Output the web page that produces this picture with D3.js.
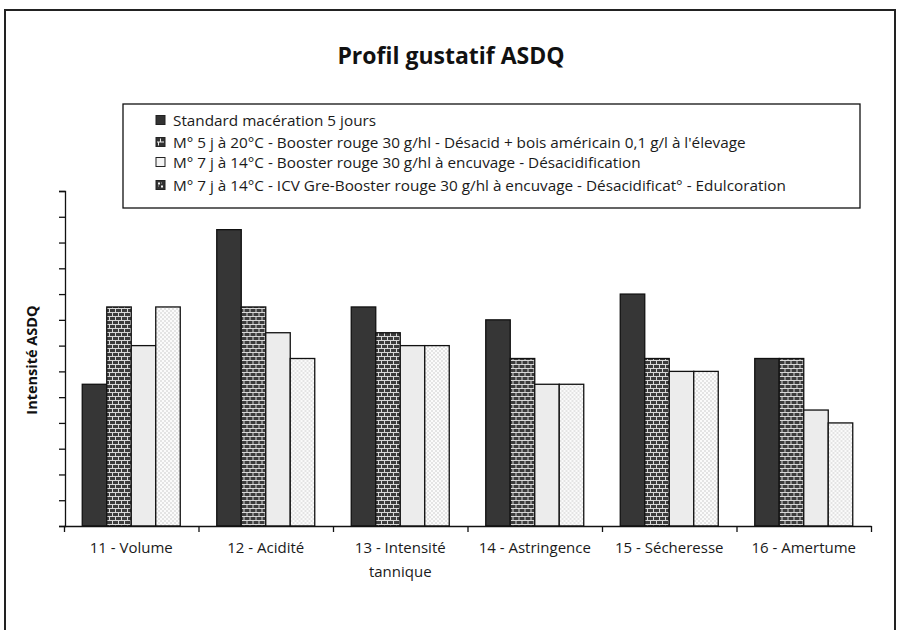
<!DOCTYPE html>
<html>
<head>
<meta charset="utf-8">
<script src="https://cdn.jsdelivr.net/npm/d3@7/dist/d3.min.js"></script>
<style>
  html, body { margin: 0; padding: 0; background: #fff; }
  svg { display: block; font-family: "Open Sans", "Noto Sans", sans-serif; }
</style>
</head>
<body>
<svg id="chart" width="901" height="630"></svg>
<script>
// Taste profile categories (x axis)
const categories = [
  ["11 - Volume"],
  ["12 - Acidité"],
  ["13 - Intensité", "tannique"],
  ["14 - Astringence"],
  ["15 - Sécheresse"],
  ["16 - Amertume"]
];

// Treatments (legend order)
const seriesNames = [
  "Standard macération 5 jours",
  "M° 5 j à 20°C - Booster rouge 30 g/hl - Désacid + bois américain 0,1 g/l à l'élevage",
  "M° 7 j à 14°C - Booster rouge 30 g/hl à encuvage - Désacidification",
  "M° 7 j à 14°C - ICV Gre-Booster rouge 30 g/hl à encuvage - Désacidificat° - Edulcoration"
];

// Intensity scores per treatment, one value per category
const standard   = [5.5, 11.5, 8.5, 8.0, 9.0, 6.5];
const booster20  = [8.5, 8.5, 7.5, 6.5, 6.5, 6.5];
const booster14  = [7.0, 7.5, 7.0, 5.5, 6.0, 4.5];
const icvGre     = [8.5, 6.5, 7.0, 5.5, 6.0, 4.0];
const seriesValues = [standard, booster20, booster14, icvGre];

const yTicks = d3.range(0, 14);
const yMax = 13;

const svg = d3.select("#chart");

// ---- fill patterns ----
const defs = svg.append("defs");

// brick fill
const brick = defs.append("pattern").attr("id", "brick")
  .attr("patternUnits", "userSpaceOnUse").attr("width", 6).attr("height", 8);
brick.append("rect").attr("width", 6).attr("height", 8).attr("fill", "#3c3c3c");
brick.append("rect").attr("x", 0).attr("y", 0).attr("width", 6).attr("height", 1).attr("fill", "#d8d8d8");
brick.append("rect").attr("x", 0).attr("y", 4).attr("width", 6).attr("height", 1).attr("fill", "#d8d8d8");
brick.append("rect").attr("x", 0).attr("y", 0).attr("width", 1).attr("height", 4).attr("fill", "#d8d8d8");
brick.append("rect").attr("x", 3).attr("y", 4).attr("width", 1).attr("height", 4).attr("fill", "#d8d8d8");

// fine checker fill
const check = defs.append("pattern").attr("id", "check")
  .attr("patternUnits", "userSpaceOnUse").attr("width", 4).attr("height", 4);
check.append("rect").attr("width", 4).attr("height", 4).attr("fill", "#fbfbfb");
check.append("rect").attr("x", 0).attr("y", 0).attr("width", 2).attr("height", 2).attr("fill", "#e4e4e4");
check.append("rect").attr("x", 2).attr("y", 2).attr("width", 2).attr("height", 2).attr("fill", "#e4e4e4");

// legend swatch variants
const legBrick = defs.append("pattern").attr("id", "legBrick")
  .attr("patternUnits", "objectBoundingBox").attr("width", 1).attr("height", 1);
legBrick.append("rect").attr("width", 9).attr("height", 9).attr("fill", "#333");
legBrick.append("rect").attr("x", 1).attr("y", 4).attr("width", 7).attr("height", 1).attr("fill", "#eee");
legBrick.append("rect").attr("x", 4).attr("y", 1).attr("width", 1).attr("height", 3).attr("fill", "#eee");
legBrick.append("rect").attr("x", 2).attr("y", 5).attr("width", 1).attr("height", 3).attr("fill", "#eee");

const legCheck = defs.append("pattern").attr("id", "legCheck")
  .attr("patternUnits", "objectBoundingBox").attr("width", 1).attr("height", 1);
legCheck.append("rect").attr("width", 9).attr("height", 9).attr("fill", "#333");
legCheck.append("rect").attr("x", 2).attr("y", 2).attr("width", 2).attr("height", 2).attr("fill", "#f4f4f4");
legCheck.append("rect").attr("x", 5).attr("y", 5).attr("width", 2).attr("height", 2).attr("fill", "#f4f4f4");
legCheck.append("rect").attr("x", 5).attr("y", 2).attr("width", 1).attr("height", 1).attr("fill", "#aaa");
legCheck.append("rect").attr("x", 2).attr("y", 5).attr("width", 1).attr("height", 1).attr("fill", "#aaa");

const barFills = ["#363636", "url(#brick)", "#ececec", "url(#check)"];
const legendFills = ["#333", "url(#legBrick)", "#f4f4f4", "url(#legCheck)"];

// ---- outer frame ----
svg.append("rect")
  .attr("x", 5).attr("y", 10).attr("width", 890).attr("height", 640)
  .attr("fill", "#fff").attr("stroke", "#222").attr("stroke-width", 2);

// ---- title ----
svg.append("text")
  .attr("x", 451).attr("y", 64)
  .attr("text-anchor", "middle")
  .attr("font-size", 23).attr("font-weight", 700)
  .attr("fill", "#111")
  .text("Profil gustatif ASDQ");

// ---- scales ----
const plot = { left: 64, right: 871, top: 191, bottom: 526 };

const x0 = d3.scaleBand()
  .domain(d3.range(categories.length))
  .range([plot.left, plot.right])
  .padding(0);

const x1 = d3.scaleBand()
  .domain(d3.range(seriesNames.length))
  .range([0, x0.bandwidth()])
  .paddingInner(0)
  .paddingOuter(0.745);

const y = d3.scaleLinear().domain([0, yMax]).range([plot.bottom, plot.top]);

// ---- bars ----
const groups = svg.append("g").selectAll("g")
  .data(categories.map((c, i) => i))
  .join("g")
  .attr("transform", i => `translate(${x0(i)},0)`);

groups.selectAll("rect")
  .data(ci => seriesValues.map((vals, si) => ({ si, v: vals[ci] })))
  .join("rect")
  .attr("x", d => x1(d.si))
  .attr("y", d => y(d.v))
  .attr("width", x1.bandwidth())
  .attr("height", d => y(0) - y(d.v))
  .attr("fill", d => barFills[d.si])
  .attr("stroke", "#111")
  .attr("stroke-width", 1.3);

// ---- y axis ----
const yAxis = svg.append("g")
  .attr("transform", `translate(${plot.left + 1},0)`)
  .call(d3.axisLeft(y).tickValues(yTicks).tickSize(6).tickFormat(""));
yAxis.select(".domain").attr("stroke", "#111").attr("stroke-width", 1.3);
yAxis.selectAll(".tick line").attr("stroke", "#111").attr("stroke-width", 1.3);

// ---- x axis (ticks at category boundaries) ----
const boundaries = d3.range(categories.length + 1).map(i => plot.left + i * x0.bandwidth());
const xEdge = d3.scaleLinear().domain([plot.left, plot.right]).range([plot.left, plot.right]);
const xAxis = svg.append("g")
  .attr("transform", `translate(0,${plot.bottom})`)
  .call(d3.axisBottom(xEdge).tickValues(boundaries).tickSize(6).tickSizeOuter(0).tickFormat(""));
xAxis.select(".domain").attr("stroke", "#111").attr("stroke-width", 1.3);
xAxis.selectAll(".tick line").attr("stroke", "#111").attr("stroke-width", 1.3);

// category labels
const labels = svg.append("g").selectAll("text")
  .data(categories)
  .join("text")
  .attr("x", (d, i) => x0(i) + x0.bandwidth() / 2)
  .attr("y", 553)
  .attr("text-anchor", "middle")
  .attr("font-size", 15)
  .attr("fill", "#1a1a1a");
labels.selectAll("tspan")
  .data(d => d)
  .join("tspan")
  .attr("x", function () { return this.parentNode.getAttribute("x"); })
  .attr("dy", (d, i) => i === 0 ? 0 : 24)
  .text(d => d);

// y axis title
svg.append("text")
  .attr("transform", "translate(37,360) rotate(-90)")
  .attr("text-anchor", "middle")
  .attr("font-size", 14.5)
  .attr("font-weight", 700)
  .attr("fill", "#111")
  .text("Intensité ASDQ");

// ---- legend ----
const legend = svg.append("g");
legend.append("rect")
  .attr("x", 123).attr("y", 104).attr("width", 737).attr("height", 104)
  .attr("fill", "#fff").attr("stroke", "#111").attr("stroke-width", 1.3);

const rowY = [120, 142, 162, 185];
const items = legend.selectAll("g.item")
  .data(seriesNames)
  .join("g")
  .attr("class", "item")
  .attr("transform", (d, i) => `translate(156,${rowY[i]})`);

items.append("rect")
  .attr("x", 0).attr("y", -4.5).attr("width", 9).attr("height", 9)
  .attr("fill", (d, i) => legendFills[i])
  .attr("stroke", "#222").attr("stroke-width", 1);

items.append("text")
  .attr("x", 17).attr("y", 5.5)
  .attr("font-size", 15.3)
  .attr("fill", "#1a1a1a")
  .text(d => d);
</script>
</body>
</html>
